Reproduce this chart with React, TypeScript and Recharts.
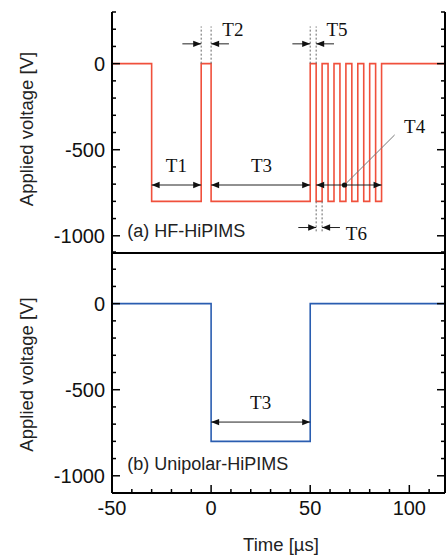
import { Line, LineChart, ReferenceDot, ReferenceLine, XAxis, YAxis } from "recharts";

// waveform breakpoints (step after), time in µs, voltage in V
const HF_TIME = [-50, -30, -5, 0, 50, 53, 56, 59, 62, 65, 68, 71, 74, 77, 80, 83, 86, 118];
const HF_VOLT = [0, -800, 0, -800, 0, -800, 0, -800, 0, -800, 0, -800, 0, -800, 0, -800, 0, 0];
const UNI_TIME = [-50, 0, 50, 118];
const UNI_VOLT = [0, -800, 0, 0];

const X_DOMAIN: [number, number] = [-50, 118];
const Y_DOMAIN: [number, number] = [-1100, 300];
const X_TICKS = [-50, -40, -30, -20, -10, 0, 10, 20, 30, 40, 50, 60, 70, 80, 90, 100, 110];
const X_MAJOR = [-50, 0, 50, 100];
const Y_TICKS = [-1100, -1000, -900, -800, -700, -600, -500, -400, -300, -200, -100, 0, 100, 200, 300];
const Y_MAJOR = [-1000, -500, 0];

const hfData = HF_TIME.map((t, i) => ({ t, v: HF_VOLT[i] }));
const uniData = UNI_TIME.map((t, i) => ({ t, v: UNI_VOLT[i] }));

// annotations (data units)
type Arrow = { x1: number; y1: number; x2: number; y2: number; both?: boolean };
const TOP_ARROWS: Arrow[] = [
  { x1: -30, y1: -705, x2: -5, y2: -705, both: true },
  { x1: 0, y1: -705, x2: 50, y2: -705, both: true },
  { x1: 53, y1: -705, x2: 86, y2: -705, both: true },
  { x1: -14.5, y1: 115, x2: -5, y2: 115 },
  { x1: 9, y1: 115, x2: 0, y2: 115 },
  { x1: 41, y1: 115, x2: 50, y2: 115 },
  { x1: 62, y1: 115, x2: 53, y2: 115 },
  { x1: 44, y1: -952, x2: 53, y2: -952 },
  { x1: 65, y1: -952, x2: 56, y2: -952 },
];
const TOP_GUIDES = [
  { t: -5, y1: 0, y2: 216 },
  { t: 0, y1: 0, y2: 216 },
  { t: 50, y1: 0, y2: 216 },
  { t: 53, y1: 0, y2: 216 },
  { t: 53, y1: -800, y2: -985 },
  { t: 56, y1: -800, y2: -985 },
];
const TOP_LABELS = [
  { text: "T1", t: -17.5, v: -592 },
  { text: "T2", t: 11, v: 197 },
  { text: "T3", t: 25.4, v: -592 },
  { text: "T5", t: 63.5, v: 197 },
  { text: "T4", t: 102.7, v: -367 },
  { text: "T6", t: 73.3, v: -985 },
];
const BOTTOM_ARROWS: Arrow[] = [{ x1: 0, y1: -688, x2: 50, y2: -688, both: true }];
const BOTTOM_LABELS = [{ text: "T3", t: 25, v: -575 }];

const SANS = "'Liberation Sans', Arial, sans-serif";
const SERIF = "'Liberation Serif', 'Times New Roman', serif";
const MAJOR_LEN = 8;
const MINOR_LEN = 4;

function head(x: number, y: number, fx: number, fy: number) {
  const a = Math.atan2(y - fy, x - fx);
  const c = Math.cos(a);
  const s = Math.sin(a);
  const bx = x - 8 * c;
  const by = y - 8 * s;
  return `${x},${y} ${bx - 3.2 * s},${by + 3.2 * c} ${bx + 3.2 * s},${by - 3.2 * c}`;
}

const arrowShape = (both?: boolean) => (p: any) => (
  <g>
    <line x1={p.x1} y1={p.y1} x2={p.x2} y2={p.y2} stroke="#222" strokeWidth={1} />
    <polygon points={head(p.x2, p.y2, p.x1, p.y1)} fill="#111" />
    {both && <polygon points={head(p.x1, p.y1, p.x2, p.y2)} fill="#111" />}
  </g>
);

const tLabel = (text: string) => (p: any) => (
  <text x={p.cx} y={p.cy} textAnchor="middle" dominantBaseline="central" fontSize={19} fontFamily={SERIF} fill="#111">
    {text}
  </text>
);

const panelLabel = (text: string) => (p: any) => (
  <text x={p.cx} y={p.cy} textAnchor="start" dominantBaseline="central" fontSize={18} fontFamily={SANS} fill="#222">
    {text}
  </text>
);

const tickLen = (v: number, major: number[]) => (major.includes(v) ? MAJOR_LEN : MINOR_LEN);

const bottomTick = (labels: boolean) => (p: any) => {
  const len = tickLen(p.payload.value, X_MAJOR);
  return (
    <g>
      <line x1={p.x} x2={p.x} y1={p.y} y2={p.y - len} stroke="#000" strokeWidth={1.5} />
      {labels && len === MAJOR_LEN && (
        <text x={p.x} y={p.y + 22} textAnchor="middle" fontSize={20} fontFamily={SANS} fill="#111">
          {p.payload.value}
        </text>
      )}
    </g>
  );
};

const topTick = (p: any) => (
  <line x1={p.x} x2={p.x} y1={p.y} y2={p.y + tickLen(p.payload.value, X_MAJOR)} stroke="#000" strokeWidth={1.5} />
);

const leftTick = (p: any) => {
  const len = tickLen(p.payload.value, Y_MAJOR);
  return (
    <g>
      <line x1={p.x} x2={p.x + len} y1={p.y} y2={p.y} stroke="#000" strokeWidth={1.5} />
      {len === MAJOR_LEN && (
        <text x={p.x - 7} y={p.y} dy="0.36em" textAnchor="end" fontSize={20} fontFamily={SANS} fill="#111">
          {p.payload.value}
        </text>
      )}
    </g>
  );
};

const rightTick = (p: any) => (
  <line x1={p.x} x2={p.x - tickLen(p.payload.value, Y_MAJOR)} y1={p.y} y2={p.y} stroke="#000" strokeWidth={1.5} />
);

const yTitle = (cy: number) => () => (
  <text
    transform={`translate(26, ${cy}) rotate(-90)`}
    textAnchor="middle"
    dominantBaseline="central"
    fontSize={18.5}
    fontFamily={SANS}
    fill="#222"
  >
    Applied voltage [V]
  </text>
);

const xTitle = () => (
  <text x={281} y={301} textAnchor="middle" fontSize={18.5} fontFamily={SANS} fill="#222">
    Time [µs]
  </text>
);

const axisLine = { stroke: "#000", strokeWidth: 2 };

function Panel({
  data,
  color,
  arrows,
  guides,
  labels,
  panel,
  panelPos,
  dot,
  leader,
  top,
  height,
  bottomHeight,
  titleY,
  showX,
}: any) {
  return (
    <div style={{ position: "absolute", left: 0, top }}>
      <LineChart width={446} height={height} data={data} margin={{ top: showX ? 2 : 12, right: 0, bottom: 0, left: 0 }}>
        <XAxis
          xAxisId="b"
          dataKey="t"
          type="number"
          domain={X_DOMAIN}
          allowDataOverflow
          ticks={X_TICKS}
          interval={0}
          height={bottomHeight}
          axisLine={axisLine}
          tickLine={false}
          tickSize={0}
          tickMargin={0}
          tick={showX ? bottomTick(true) : false}
          label={showX ? xTitle : undefined}
        />
        <XAxis
          xAxisId="t"
          orientation="top"
          type="number"
          domain={X_DOMAIN}
          allowDataOverflow
          ticks={X_TICKS}
          interval={0}
          height={0}
          axisLine={axisLine}
          tickLine={false}
          tickSize={0}
          tickMargin={0}
          tick={topTick}
        />
        <YAxis
          yAxisId="l"
          type="number"
          domain={Y_DOMAIN}
          allowDataOverflow
          ticks={Y_TICKS}
          interval={0}
          width={112}
          axisLine={axisLine}
          tickLine={false}
          tickSize={0}
          tickMargin={0}
          tick={leftTick}
          label={yTitle(titleY)}
        />
        <YAxis
          yAxisId="r"
          orientation="right"
          type="number"
          domain={Y_DOMAIN}
          allowDataOverflow
          ticks={Y_TICKS}
          interval={0}
          width={1}
          axisLine={axisLine}
          tickLine={false}
          tickSize={0}
          tickMargin={0}
          tick={rightTick}
        />
        <Line
          xAxisId="b"
          yAxisId="l"
          type="stepAfter"
          dataKey="v"
          stroke={color}
          strokeWidth={1.6}
          dot={false}
          isAnimationActive={false}
        />
        {guides.map((g: any, i: number) => (
          <ReferenceLine
            key={`g${i}`}
            xAxisId="b"
            yAxisId="l"
            segment={[
              { x: g.t, y: g.y1 },
              { x: g.t, y: g.y2 },
            ]}
            stroke="#666"
            strokeWidth={1}
            strokeDasharray="2 2"
          />
        ))}
        {leader && (
          <ReferenceLine
            xAxisId="b"
            yAxisId="l"
            segment={[
              { x: leader.x1, y: leader.y1 },
              { x: leader.x2, y: leader.y2 },
            ]}
            stroke="#777"
            strokeWidth={1}
          />
        )}
        {arrows.map((a: Arrow, i: number) => (
          <ReferenceLine
            key={`a${i}`}
            xAxisId="b"
            yAxisId="l"
            segment={[
              { x: a.x1, y: a.y1 },
              { x: a.x2, y: a.y2 },
            ]}
            shape={arrowShape(a.both)}
          />
        ))}
        {dot && <ReferenceDot xAxisId="b" yAxisId="l" x={dot.t} y={dot.v} r={2.6} fill="#111" stroke="none" />}
        {labels.map((l: any) => (
          <ReferenceDot key={l.text} xAxisId="b" yAxisId="l" x={l.t} y={l.v} r={0} shape={tLabel(l.text)} />
        ))}
        <ReferenceDot xAxisId="b" yAxisId="l" x={panelPos.t} y={panelPos.v} r={0} shape={panelLabel(panel)} />
      </LineChart>
    </div>
  );
}

export default function App() {
  return (
    <div style={{ position: "absolute", left: 0, top: 0, width: 446, height: 556, background: "#fff" }}>
      <Panel
        data={hfData}
        color="#f0503c"
        arrows={TOP_ARROWS}
        guides={TOP_GUIDES}
        labels={TOP_LABELS}
        panel="(a) HF-HiPIMS"
        panelPos={{ t: -42.3, v: -975 }}
        dot={{ t: 67.3, v: -705 }}
        leader={{ x1: 67.3, y1: -705, x2: 92.6, y2: -414 }}
        top={0}
        height={255}
        bottomHeight={2}
        titleY={129}
        showX={false}
      />
      <Panel
        data={uniData}
        color="#2a5db0"
        arrows={BOTTOM_ARROWS}
        guides={[]}
        labels={BOTTOM_LABELS}
        panel="(b) Unipolar-HiPIMS"
        panelPos={{ t: -42.3, v: -930 }}
        top={250}
        height={306}
        bottomHeight={63}
        titleY={124.5}
        showX
      />
    </div>
  );
}
